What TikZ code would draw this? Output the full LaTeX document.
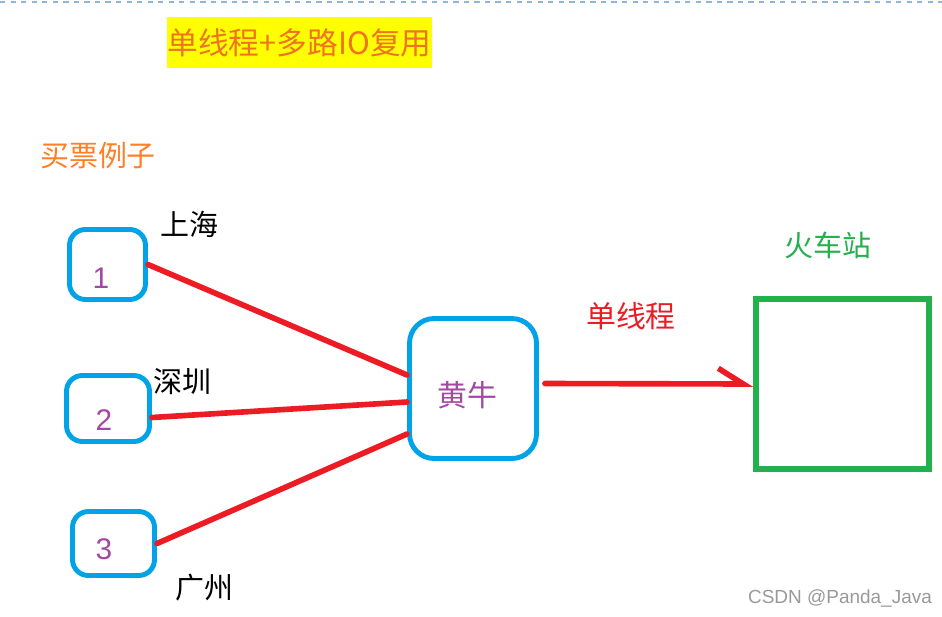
\documentclass[tikz,border=0pt]{standalone}
\usepackage{fontspec}
\setmainfont{Liberation Sans}
\newfontfamily\cjk{Noto Sans CJK SC}
\usetikzlibrary{arrows.meta, positioning}
\definecolor{rahmen}{HTML}{00A2E8}
\definecolor{linie}{HTML}{ED1C24}
\definecolor{gruen}{HTML}{22B14C}
\definecolor{lila}{HTML}{A349A4}
\definecolor{orange}{HTML}{FF7F27}
\definecolor{titel}{HTML}{EE7420}
\definecolor{gelb}{HTML}{FFFF00}
\definecolor{strich}{HTML}{8FB6DA}

\begin{document}
\begin{tikzpicture}[x=0.02cm, y=-0.02cm,
    kasten/.style={draw=rahmen, line width=2.8pt, rounded corners=9pt, inner sep=0pt},
    zahl/.style={text=lila, font=\fontsize{17}{17}\selectfont},
    ort/.style={font=\cjk\fontsize{16.5}{16.5}\selectfont},
    pfeil/.style={linie, line width=3.2pt, line cap=round}]
      \useasboundingbox (0,0) rectangle (942,616);

      % Rand
      \draw[strich, dashed, line width=1pt] (0,2) -- (942,2);

      % Titel
      \node[fill=gelb, text=titel, inner sep=0pt, minimum width=5.14cm, minimum height=1.02cm,
        font=\cjk\fontsize{17.5}{17.5}\selectfont] (titel) at (299.5,42.5) {单线程+多路IO复用};
      \node[ort, text=orange] (beispiel) at (98,156) {买票例子};

      % Kunden
      \node[kasten, minimum width=1.52cm, minimum height=1.40cm] (k1) at (107.5,264.5) {};
      \node[kasten, minimum width=1.66cm, minimum height=1.32cm] (k2) at (108,408.5) {};
      \node[kasten, minimum width=1.64cm, minimum height=1.28cm] (k3) at (113.5,543.5) {};
      \node[zahl] (z1) at (101,278) {1};
      \node[zahl] (z2) at (104,420) {2};
      \node[zahl] (z3) at (104,549) {3};
      \node[ort] (sh) at (189,224) {上海};
      \node[ort] (sz) at (182,382) {深圳};
      \node[ort] (gz) at (204,588) {广州};

      % Vermittler und Bahnhof
      \node[kasten, rounded corners=14pt, minimum width=2.54cm, minimum height=2.8cm] (hn) at (473,388.5) {};
      \node[text=lila, font=\cjk\fontsize{17}{17}\selectfont] (hntext) at (467,395) {黄牛};
      \node[draw=gruen, line width=3.4pt, minimum width=3.46cm, minimum height=3.4cm] (bhf) at (842.5,384) {};
      \node[ort, text=gruen] (bhftext) at (828,245) {火车站};
      \node[ort, text=linie, font=\cjk\fontsize{17}{17}\selectfont] (einfaden) at (631,316) {单线程};

      % Linien
      \draw[pfeil] (k1.east) -- ([yshift=0.27cm]hn.west);
      \draw[pfeil] ([yshift=-0.18cm]k2.east) -- ([yshift=-0.27cm]hn.west);
      \draw[pfeil] (k3.east) -- ([yshift=-0.91cm]hn.west);
      \draw[pfeil, -{Straight Barb[harpoon, length=0.5cm, angle'=64]}]
        ([shift={(0.12cm,0.1cm)}]hn.east) -- (bhf.west);

      % Wasserzeichen
      \node[text=gray!80, font=\fontsize{10.8}{10.8}\selectfont] (wz) at (840,598) {CSDN @Panda\_Java};
    \end{tikzpicture}
\end{document}
